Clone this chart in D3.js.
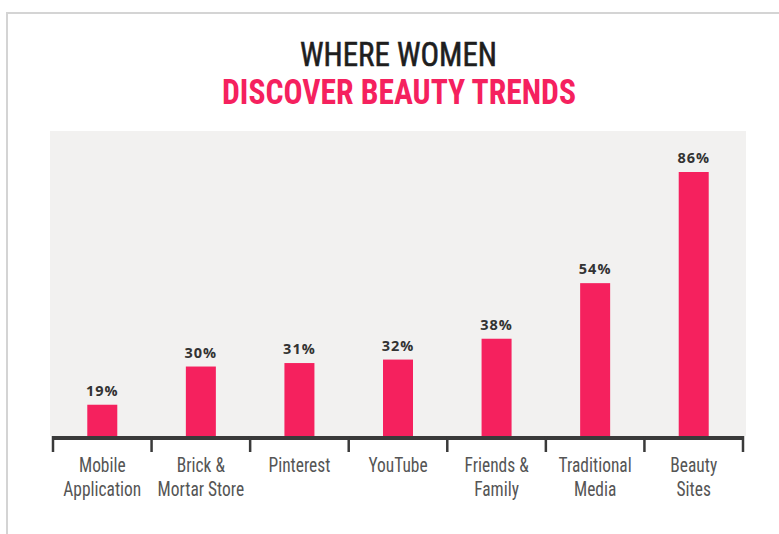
<!DOCTYPE html>
<html>
<head>
<meta charset="utf-8">
<script src="https://cdn.jsdelivr.net/npm/d3@7"></script>
<style>
  html, body { margin: 0; padding: 0; background: #fff; }
  svg { display: block; }
</style>
</head>
<body>
<script>
// Where women discover beauty trends (share of respondents, %)
const categories = [
  ["Mobile", "Application"],
  ["Brick &", "Mortar Store"],
  ["Pinterest"],
  ["YouTube"],
  ["Friends &", "Family"],
  ["Traditional", "Media"],
  ["Beauty", "Sites"]
];
const values = [19, 30, 31, 32, 38, 54, 86];
const valueLabels = values.map(v => v + "%");
const titleLines = ["WHERE WOMEN", "DISCOVER BEAUTY TRENDS"];

const W = 779, H = 534;
const pink = "#f5215e";
const narrow = "'Liberation Sans Narrow', 'Roboto Condensed', 'DejaVu Sans Condensed', 'Liberation Sans', sans-serif";

const svg = d3.select("body").append("svg")
  .attr("width", W).attr("height", H);

// frame lines
svg.append("path")
  .attr("d", `M7,${H} V13 H${W}`)
  .attr("fill", "none")
  .attr("stroke", "#d4d4d4")
  .attr("stroke-width", 2);

// title
svg.append("text")
  .attr("x", 398.5).attr("y", 66)
  .attr("text-anchor", "middle")
  .attr("font-family", narrow)
  .attr("font-size", 33)
  .attr("fill", "#1e1e1e")
  .attr("stroke", "#1e1e1e")
  .attr("stroke-width", 0.6)
  .attr("textLength", 197)
  .attr("lengthAdjust", "spacingAndGlyphs")
  .text(titleLines[0]);
svg.append("text")
  .attr("x", 399).attr("y", 104)
  .attr("text-anchor", "middle")
  .attr("font-family", narrow)
  .attr("font-weight", "bold")
  .attr("font-size", 35)
  .attr("fill", pink)
  .attr("textLength", 354)
  .attr("lengthAdjust", "spacingAndGlyphs")
  .text(titleLines[1]);

// plot geometry
const plotTop = 131, baseY = 436, axisLeft = 53, axisRight = 743;

const x = d3.scaleBand()
  .domain(d3.range(categories.length))
  .range([axisLeft, axisRight])
  .paddingInner(0).paddingOuter(0);

const y = d3.scaleLinear()
  .domain([10, 86])
  .range([baseY, 172]);

// panel background
svg.append("rect")
  .attr("x", 50).attr("y", plotTop)
  .attr("width", 746 - 50).attr("height", baseY - plotTop)
  .attr("fill", "#f2f1f0");

const barW = 30;
const cx = i => x(i) + x.bandwidth() / 2;

svg.append("g").selectAll("rect")
  .data(values)
  .join("rect")
  .attr("x", (d, i) => cx(i) - barW / 2)
  .attr("y", d => y(d))
  .attr("width", barW)
  .attr("height", d => baseY - y(d))
  .attr("fill", pink);

svg.append("g").selectAll("text")
  .data(values)
  .join("text")
  .attr("x", (d, i) => cx(i))
  .attr("y", d => y(d) - 9)
  .attr("text-anchor", "middle")
  .attr("font-family", "'Open Sans', 'Noto Sans', sans-serif")
  .attr("font-weight", "bold")
  .attr("font-size", 14.5)
  .attr("letter-spacing", 1)
  .attr("fill", "#333")
  .text((d, i) => valueLabels[i]);

// axis baseline with boundary ticks
const axis = d3.axisBottom(x).tickSize(0).tickFormat("");
const gAxis = svg.append("g").attr("transform", `translate(0,${baseY + 2})`).call(axis);
gAxis.select(".domain")
  .attr("stroke", "#3a3a3a")
  .attr("stroke-width", 4)
  .attr("d", `M${axisLeft},0H${axisRight}`);
gAxis.selectAll(".tick").remove();

const bounds = d3.range(categories.length + 1).map(i =>
  i < categories.length ? x(i) : axisRight);
svg.append("g").selectAll("line")
  .data(bounds)
  .join("line")
  .attr("x1", d => d).attr("x2", d => d)
  .attr("y1", baseY).attr("y2", 452)
  .attr("stroke", "#3a3a3a")
  .attr("stroke-width", 2.5);

// category labels in a condensed face
const labelSize = 21;
const probe = svg.append("text")
  .attr("font-family", narrow).attr("font-size", labelSize)
  .text("Application");
const squeeze = Math.min(1, 78 / probe.node().getComputedTextLength());
probe.remove();

const gLab = svg.append("g").selectAll("g")
  .data(categories)
  .join("g")
  .attr("transform", (d, i) => `translate(${cx(i)},472) scale(${squeeze},1)`);
gLab.selectAll("text")
  .data(d => d)
  .join("text")
  .attr("x", 0)
  .attr("y", (d, j) => j * 24)
  .attr("text-anchor", "middle")
  .attr("font-family", narrow)
  .attr("font-size", labelSize)
  .attr("fill", "#555")
  .text(d => d);
</script>
</body>
</html>
